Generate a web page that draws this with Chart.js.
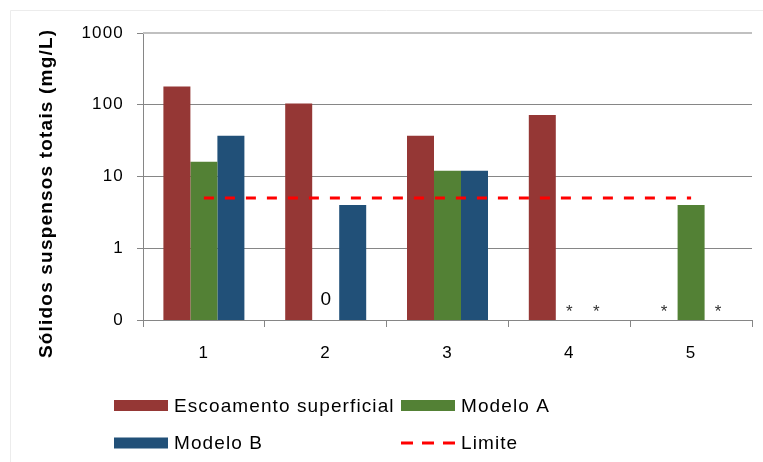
<!DOCTYPE html>
<html>
<head>
<meta charset="utf-8">
<script src="https://cdn.jsdelivr.net/npm/chart.js@4/dist/chart.umd.min.js"></script>
<style>
  html, body { margin: 0; padding: 0; background: #fff; }
  #wrap { position: relative; width: 763px; height: 462px; }
</style>
</head>
<body>
<div id="wrap"><canvas id="c" width="763" height="462"></canvas></div>
<script>
// ---- data ----
const categories = ['1', '2', '3', '4', '5'];
const escoamento = [180, 104, 37, 72, null];
const modeloA = [16, null, 12, null, 4];
const modeloB = [37, 4, 12, null, null];
const limite = [5, 5, 5, 5, 5];
const yTicks = [0.1, 1, 10, 100, 1000];
// text markers shown where a bar is missing
const markEscoamento = ['', '', '', '', '*'];
const markModeloA = ['', '0', '', '*', ''];
const markModeloB = ['', '', '', '*', '*'];
const seriesNames = ['Escoamento superficial', 'Modelo A', 'Modelo B', 'Limite'];
const yTitle = 'Sólidos suspensos totais (mg/L)';

const FONT = '"Liberation Sans", Arial, sans-serif';
const colors = ['#953735', '#538135', '#215078', '#ff0000'];
const CAT_PCT = 0.665;

const marks = [markEscoamento, markModeloA, markModeloB];

const extras = {
  id: 'extras',
  beforeDraw(chart) {
    const ctx = chart.ctx;
    ctx.save();
    ctx.fillStyle = '#fff';
    ctx.fillRect(0, 0, chart.width, chart.height);
    ctx.strokeStyle = '#ececec';
    ctx.lineWidth = 1;
    ctx.beginPath();
    ctx.moveTo(10.5, 462);
    ctx.lineTo(10.5, 10.5);
    ctx.lineTo(763, 10.5);
    ctx.stroke();
    ctx.restore();
    // slightly wider spacing for axis tick labels
    ctx.letterSpacing = '1.2px';
  },
  afterDraw(chart) {
    const ctx = chart.ctx;
    const xs = chart.scales.x;
    const ca = chart.chartArea;
    ctx.save();
    ctx.letterSpacing = '0px';
    // top border line of plot
    ctx.strokeStyle = '#c0c0c0';
    ctx.lineWidth = 2;
    ctx.beginPath();
    ctx.moveTo(ca.left, ca.top);
    ctx.lineTo(ca.right, ca.top);
    ctx.stroke();
    // markers
    const catW = xs.width / categories.length;
    const barW = catW * CAT_PCT / 3;
    ctx.textAlign = 'center';
    marks.forEach((arr, j) => {
      arr.forEach((t, i) => {
        if (!t) return;
        const x = xs.getPixelForValue(i) + (j - 1) * barW;
        if (t === '*') {
          ctx.font = '17px ' + FONT;
          ctx.fillStyle = '#333';
          ctx.textBaseline = 'alphabetic';
          ctx.fillText(t, x, ca.bottom - 3);
        } else {
          ctx.font = '19px ' + FONT;
          ctx.fillStyle = '#000';
          ctx.textBaseline = 'middle';
          ctx.fillText(t, x, ca.bottom - 20);
        }
      });
    });
    // y title
    ctx.save();
    ctx.translate(47, 194);
    ctx.rotate(-Math.PI / 2);
    ctx.font = 'bold 19px ' + FONT;
    const w0 = ctx.measureText(yTitle).width;
    const sp = Math.max(0, (328 - w0) / (yTitle.length - 1));
    ctx.letterSpacing = sp.toFixed(2) + 'px';
    ctx.fillStyle = '#000';
    ctx.textAlign = 'center';
    ctx.textBaseline = 'middle';
    ctx.fillText(yTitle, sp / 2, 0);
    ctx.restore();
    // legend
    const items = [
      { x: 114, y: 405.5, i: 0 },
      { x: 401, y: 405.5, i: 1 },
      { x: 114, y: 443, i: 2 },
      { x: 401, y: 443, i: 3 }
    ];
    ctx.font = '19px ' + FONT;
    ctx.letterSpacing = '1.1px';
    ctx.textAlign = 'left';
    ctx.textBaseline = 'middle';
    items.forEach(it => {
      if (it.i < 3) {
        ctx.fillStyle = colors[it.i];
        ctx.fillRect(it.x, it.y - 5.5, 54, 11);
      } else {
        ctx.strokeStyle = colors[3];
        ctx.lineWidth = 3;
        ctx.setLineDash([12, 9]);
        ctx.beginPath();
        ctx.moveTo(it.x, it.y);
        ctx.lineTo(it.x + 54, it.y);
        ctx.stroke();
        ctx.setLineDash([]);
      }
      ctx.fillStyle = '#000';
      ctx.fillText(seriesNames[it.i], it.x + 60, it.y + 1);
    });
    ctx.restore();
  }
};

new Chart(document.getElementById('c'), {
  type: 'bar',
  data: {
    labels: categories,
    datasets: [
      { label: seriesNames[0], data: escoamento, backgroundColor: colors[0], borderWidth: 0, order: 2 },
      { label: seriesNames[1], data: modeloA, backgroundColor: colors[1], borderWidth: 0, order: 2 },
      { label: seriesNames[2], data: modeloB, backgroundColor: colors[2], borderWidth: 0, order: 2 },
      { type: 'line', label: seriesNames[3], data: limite, borderColor: colors[3], borderWidth: 3,
        borderDash: [10, 11], pointRadius: 0, fill: false, order: 1 }
    ]
  },
  options: {
    responsive: false,
    animation: false,
    devicePixelRatio: 1,
    layout: { padding: { left: 60, right: 11, top: 33, bottom: 102 } },
    datasets: { bar: { categoryPercentage: CAT_PCT, barPercentage: 1, grouped: true } },
    plugins: { legend: { display: false }, tooltip: { enabled: false } },
    scales: {
      x: {
        type: 'category',
        offset: true,
        grid: { offset: true, drawOnChartArea: false, drawTicks: true, tickLength: 7, color: '#868686' },
        border: { color: '#868686', width: 1 },
        ticks: { color: '#000', font: { family: FONT, size: 17 }, padding: 16 },
        afterFit(s) { s.height = 40; }
      },
      y: {
        type: 'logarithmic',
        min: 0.1,
        max: 1000,
        afterBuildTicks(s) { s.ticks = yTicks.map(v => ({ value: v })); },
        grid: { color: '#868686', drawTicks: true, tickLength: 6 },
        border: { color: '#868686', width: 1 },
        ticks: {
          color: '#000', font: { family: FONT, size: 17 }, padding: 13,
          callback: v => (v === 0.1 ? '0' : String(v))
        },
        afterFit(s) { s.width = 83; }
      }
    }
  },
  plugins: [extras]
});
</script>
</body>
</html>
